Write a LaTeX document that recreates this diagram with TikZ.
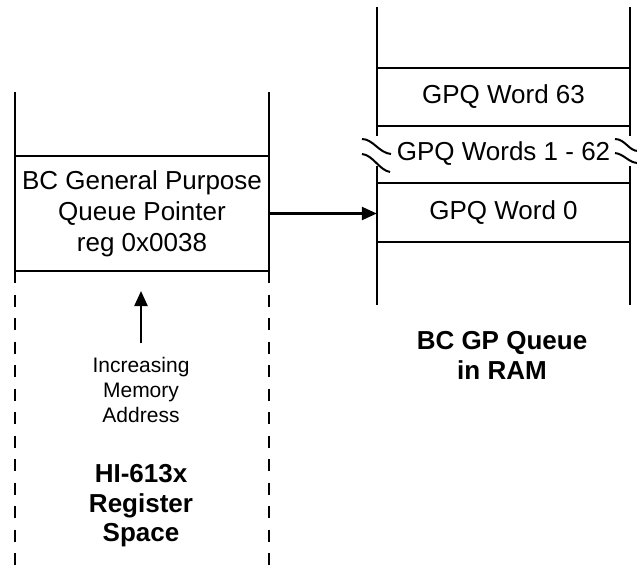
\documentclass[tikz,border=0pt]{standalone}
\usepackage{fontspec}
\setmainfont{Liberation Sans}
\usetikzlibrary{arrows.meta}
\begin{document}
\begin{tikzpicture}[x=1pt,y=-1pt,
  ln/.style={line width=2.4pt, line cap=butt},
  dsh/.style={line width=2.4pt, dash pattern=on 12pt off 11.5pt},
  big/.style={font=\fontsize{26}{31}\selectfont, align=center, inner sep=0pt},
  small/.style={font=\fontsize{21}{25}\selectfont, align=center, inner sep=0pt},
  bold/.style={font=\fontsize{26}{29.5}\selectfont\bfseries, align=center, inner sep=0pt},
  row/.style={big, minimum width=253pt, minimum height=57pt},
  arr/.style={line width=2.4pt, -{Triangle[length=15pt,width=13pt]}}
]
\useasboundingbox (0,0) rectangle (637,571);
% left column
\node[big, draw, line width=2.4pt, minimum width=254pt, minimum height=115pt] (bcq) at (142,213.5)
  {BC General Purpose\\Queue Pointer\\reg 0x0038};
\coordinate (lt1) at (15,92);  \coordinate (lb1) at (15,271); \coordinate (le1) at (15,567);
\coordinate (lt2) at (269,92); \coordinate (lb2) at (269,271); \coordinate (le2) at (269,567);
\draw[ln] (lt1) -- (lb1);
\draw[ln] (lt2) -- (lb2);
\draw[dsh] (lb1) -- (le1);
\draw[dsh] (lb2) -- (le2);
\coordinate (ab) at (141,343);
\coordinate (at) at (141,291);
\draw[arr] (ab) -- (at);
\node[small] (inc) at (141,390) {Increasing\\Memory\\Address};
\node[bold] (hi) at (141,506) {HI-613x\\Register\\Space};
% right column
\node[row] (w63) at (503.5,96.5) {GPQ Word 63};
\node[row] (w162) at (503.5,154) {GPQ Words 1 - 62};
\node[row] (w0) at (503.5,212.5) {GPQ Word 0};
\node[bold, font=\fontsize{26}{30}\selectfont\bfseries] (ram) at (502,355) {BC GP Queue\\in RAM};
\coordinate (rt1) at (377,7);  \coordinate (rm1) at (377,136); \coordinate (rn1) at (377,166); \coordinate (rb1) at (377,305);
\coordinate (rt2) at (630,7);  \coordinate (rm2) at (630,136); \coordinate (rn2) at (630,166); \coordinate (rb2) at (630,305);
\draw[ln] (rt1) -- (rm1);
\draw[ln] (rn1) -- (rb1);
\draw[ln] (rt2) -- (rm2);
\draw[ln] (rn2) -- (rb2);
\draw[ln] (376,68) -- (631,68);
\draw[ln] (376,126) -- (631,126);
\draw[ln] (376,183) -- (631,183);
\draw[ln] (376,242) -- (631,242);
% break marks
\draw[line width=2pt] (362,139) .. controls (373,139) and (379,153) .. (391,154);
\draw[line width=2pt] (362,154) .. controls (373,155) and (379,170) .. (390,172);
\draw[line width=2pt] (615,139) .. controls (625,139) and (629,151) .. (638,151);
\draw[line width=2pt] (615,153) .. controls (624,154) and (629,163) .. (638,163);
% pointer arrow
\draw[arr] (bcq.east) -- (bcq.east -| w0.west);
\end{tikzpicture}
\end{document}
